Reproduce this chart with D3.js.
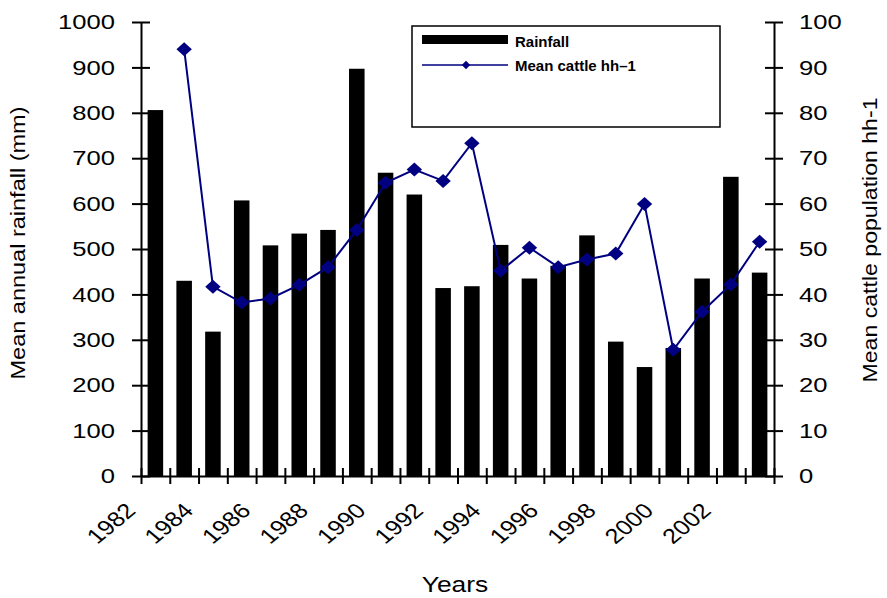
<!DOCTYPE html>
<html>
<head>
<meta charset="utf-8">
<script src="https://cdn.jsdelivr.net/npm/d3@7"></script>
<style>
  html, body { margin: 0; padding: 0; background: #fff; }
  svg { display: block; }
  text { font-family: "Liberation Sans", Arial, sans-serif; fill: #000; }
</style>
</head>
<body>
<svg id="chart" width="887" height="598"></svg>
<script>
// ---- data ----
const years = [1982,1983,1984,1985,1986,1987,1988,1989,1990,1991,1992,1993,1994,1995,1996,1997,1998,1999,2000,2001,2002,2003];
const rainfall = [806,430,318,607,508,534,542,897,668,620,414,418,509,435,463,530,296,240,282,435,659,448];
const cattle = [null,94,41.7,38.2,39.1,42.1,46,54.2,64.6,67.5,65,73.3,45.2,50.3,46,47.7,49,59.9,27.8,36.2,42.2,51.6];
const leftTicks = [0,100,200,300,400,500,600,700,800,900,1000];
const rightTicks = [0,10,20,30,40,50,60,70,80,90,100];
const xLabels = ["1982","1984","1986","1988","1990","1992","1994","1996","1998","2000","2002"];
const seriesNames = ["Rainfall", "Mean cattle hh\u20131"];

// ---- layout ----
const svg = d3.select("#chart");
const L = 141, R = 774, T = 22, B = 476;
const SX = 1.22; // horizontal stretch of the wide font

const xBand = d3.scaleBand().domain(years).range([L, R]).paddingInner(0.46).paddingOuter(0.23);
const xEdge = d3.scaleLinear().domain([years[0], years[years.length - 1] + 1]).range([L, R]);
const yL = d3.scaleLinear().domain([0, 1000]).range([B, T]);
const yR = d3.scaleLinear().domain([0, 100]).range([B, T]);

// bars
svg.append("g").selectAll("rect").data(years).join("rect")
  .attr("x", d => xBand(d))
  .attr("width", xBand.bandwidth())
  .attr("y", (d, i) => yL(rainfall[i]))
  .attr("height", (d, i) => B - yL(rainfall[i]))
  .attr("fill", "#000");

// left axis
const gL = svg.append("g").attr("transform", `translate(${L},0)`)
  .call(d3.axisLeft(yL).tickValues(leftTicks).tickFormat(d3.format("d")).tickSize(9).tickSizeOuter(0).tickPadding(17));
gL.selectAll(".tick line").attr("x1", 9).attr("stroke-width", 2);
gL.select(".domain").attr("stroke-width", 2);
gL.selectAll(".tick text").attr("font-size", 21).attr("font-family", '"Liberation Sans", Arial, sans-serif')
  .attr("x", -26 / SX).attr("transform", `scale(${SX},1)`);

// right axis
const gR = svg.append("g").attr("transform", `translate(${R},0)`)
  .call(d3.axisRight(yR).tickValues(rightTicks).tickFormat(d3.format("d")).tickSize(9).tickSizeOuter(0).tickPadding(16));
gR.selectAll(".tick line").attr("x1", -9).attr("stroke-width", 2);
gR.select(".domain").attr("stroke-width", 2);
gR.selectAll(".tick text").attr("font-size", 21).attr("font-family", '"Liberation Sans", Arial, sans-serif')
  .attr("x", 25 / SX).attr("transform", `scale(${SX},1)`);

// bottom axis
const gB = svg.append("g").attr("transform", `translate(0,${B})`)
  .call(d3.axisBottom(xEdge).tickValues(d3.range(years[0], years[years.length - 1] + 2)).tickSize(8).tickSizeOuter(0).tickFormat(""));
gB.selectAll(".tick line").attr("y1", -8).attr("stroke-width", 2);
gB.select(".domain").attr("stroke-width", 2);

// x labels
svg.append("g").selectAll("text").data(xLabels).join("text")
  .attr("transform", d => `translate(${xEdge(+d) - 4},${B + 36}) scale(1.2,1) rotate(-45)`)
  .attr("text-anchor", "end")
  .attr("font-size", 21)
  .text(d => d);

// line
const pts = years.map((y, i) => ({ y, v: cattle[i] })).filter(p => p.v !== null);
const cx = d => xBand(d.y) + xBand.bandwidth() / 2;
svg.append("path").datum(pts)
  .attr("fill", "none").attr("stroke", "#000080").attr("stroke-width", 2)
  .attr("d", d3.line().x(cx).y(d => yR(d.v)));
const diamond = d3.symbol().type(d3.symbolDiamond2).size(125);
svg.append("g").selectAll("path").data(pts).join("path")
  .attr("transform", d => `translate(${cx(d)},${yR(d.v)}) scale(1.1,1)`)
  .attr("d", diamond)
  .attr("fill", "#000080");

// axis titles
svg.append("text")
  .attr("transform", `translate(25,243) scale(1,1.12) rotate(-90)`)
  .attr("text-anchor", "middle").attr("font-size", 21)
  .text("Mean annual rainfall (mm)");
svg.append("text")
  .attr("transform", `translate(877,240) scale(1,1.1) rotate(-90)`)
  .attr("text-anchor", "middle").attr("font-size", 21)
  .text("Mean cattle population hh-1");
svg.append("text")
  .attr("transform", `translate(455,592) scale(1.2,1)`)
  .attr("text-anchor", "middle").attr("font-size", 22)
  .text("Years");

// legend
const lg = svg.append("g");
lg.append("rect").attr("x", 412).attr("y", 26).attr("width", 308).attr("height", 101)
  .attr("fill", "#fff").attr("stroke", "#000").attr("stroke-width", 1.5);
lg.append("rect").attr("x", 422).attr("y", 35).attr("width", 86).attr("height", 9).attr("fill", "#000");
lg.append("text").attr("x", 515).attr("y", 47).attr("font-size", 15).attr("font-weight", "bold").text(seriesNames[0]);
lg.append("line").attr("x1", 422).attr("x2", 508).attr("y1", 65).attr("y2", 65)
  .attr("stroke", "#000080").attr("stroke-width", 1.5);
lg.append("path").attr("transform", "translate(466,65)").attr("d", d3.symbol().type(d3.symbolDiamond2).size(45)).attr("fill", "#000080");
lg.append("text").attr("x", 515).attr("y", 71).attr("font-size", 15).attr("font-weight", "bold").text(seriesNames[1]);
</script>
</body>
</html>
